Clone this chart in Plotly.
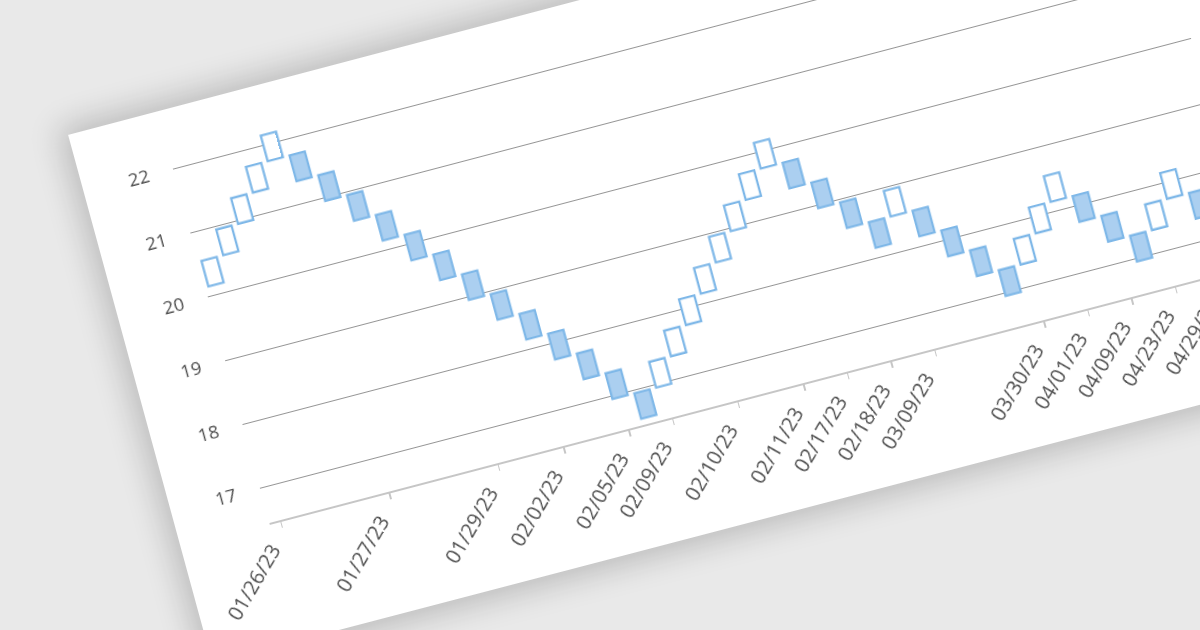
import numpy as np
import plotly.graph_objects as go

# ---------------- data (Renko bricks) ----------------
brick_open = [20.15, 20.55, 20.95, 21.35, 21.75,
              21.75, 21.35, 20.95, 20.55, 20.15, 19.75, 19.35, 18.95, 18.55, 18.15, 17.75, 17.35, 16.95,
              16.95, 17.35, 17.75, 18.15, 18.55, 18.95, 19.35, 19.75,
              19.75, 19.35, 18.95, 18.55,
              18.55,
              18.55, 18.15, 17.75, 17.35,
              17.35, 17.75, 18.15,
              18.15, 17.75, 17.35,
              17.35, 17.75,
              17.75]
brick_close = [20.55, 20.95, 21.35, 21.75, 22.15,
               21.35, 20.95, 20.55, 20.15, 19.75, 19.35, 18.95, 18.55, 18.15, 17.75, 17.35, 16.95, 16.55,
               17.35, 17.75, 18.15, 18.55, 18.95, 19.35, 19.75, 20.15,
               19.35, 18.95, 18.55, 18.15,
               18.95,
               18.15, 17.75, 17.35, 16.95,
               17.75, 18.15, 18.55,
               17.75, 17.35, 16.95,
               17.75, 18.15,
               17.35]
tick_index = [0, 5, 10, 13, 16, 18, 21, 24, 26, 28, 30, 35, 37, 39, 41, 43]
tick_labels = ["01/26/23", "01/27/23", "01/29/23", "02/02/23", "02/05/23", "02/09/23",
               "02/10/23", "02/11/23", "02/17/23", "02/18/23", "03/09/23", "03/30/23",
               "04/01/23", "04/09/23", "04/23/23", "04/29/23"]
y_ticks = [17, 18, 19, 20, 21, 22]

# ---------------- styles ----------------
LINE_BLUE = "#7fb8e8"
FILL_BLUE = "#abcff0"
TEXT = "#4e4e4e"
FONT = "Open Sans"

n = len(brick_open)
idx = list(range(n))
up_i = [i for i in idx if brick_close[i] > brick_open[i]]
dn_i = [i for i in idx if brick_close[i] < brick_open[i]]

def lo(i):
    return min(brick_open[i], brick_close[i])

def hgt(i):
    return abs(brick_close[i] - brick_open[i])

fig = go.Figure()
fig.add_trace(go.Bar(x=up_i, y=[hgt(i) for i in up_i], base=[lo(i) for i in up_i],
                     width=0.7, marker=dict(color="white", line=dict(color=LINE_BLUE, width=2.3)),
                     hoverinfo="skip", showlegend=False))
fig.add_trace(go.Bar(x=dn_i, y=[hgt(i) for i in dn_i], base=[lo(i) for i in dn_i],
                     width=0.7, marker=dict(color=FILL_BLUE, line=dict(color=LINE_BLUE, width=2.3)),
                     hoverinfo="skip", showlegend=False))

xr = [-0.5, 44.5]
yr = [16.45, 22.5]

# ---------------- view (card perspective) calibration ----------------
# data coords (slot, value) of a few reference features and where they appear on the page
view_uv = [(-0.5, 22), (-0.5, 17), (0, 20.35), (4, 21.95), (17, 16.75), (25, 19.95),
           (34, 17.15), (37, 18.35), (40, 17.15), (42, 17.95),
           (0, 16.45), (5, 16.45), (10, 16.45), (16, 16.45), (35, 16.45), (41, 16.45)]
view_xy = [(173.3, 170.7), (259.3, 486.7), (212.5, 271.7), (271.7, 145.7), (648.3, 408), (764, 153),
           (1011, 281), (1055.5, 187), (1141.5, 247), (1171, 183),
           (279.3, 516.7), (389, 493), (498, 464), (628, 428), (1043.6, 323), (1173, 283)]
card_top_left = (68, 135)
card_bottom_pt = (600, 562)


def norm_mat(pts):
    p = np.asarray(pts, float)
    c = p.mean(axis=0)
    d = np.sqrt(((p - c) ** 2).sum(axis=1)).mean()
    s = np.sqrt(2) / d
    return np.array([[s, 0, -s * c[0]], [0, s, -s * c[1]], [0, 0, 1]])


def fit_h(src, dst):
    Ts, Td = norm_mat(src), norm_mat(dst)
    rows = []
    for (x, y), (X, Y) in zip(src, dst):
        a = Ts @ [x, y, 1]
        b = Td @ [X, Y, 1]
        x, y = a[0], a[1]
        X, Y = b[0], b[1]
        rows.append([x, y, 1, 0, 0, 0, -X * x, -X * y, -X])
        rows.append([0, 0, 0, x, y, 1, -Y * x, -Y * y, -Y])
    _, _, vt = np.linalg.svd(np.asarray(rows, float))
    h = vt[-1].reshape(3, 3)
    h = np.linalg.inv(Td) @ h @ Ts
    return h / h[2, 2]


Hd = fit_h(view_uv, view_xy)
Hinv = np.linalg.inv(Hd)


def back(pt):
    q = Hinv @ [pt[0], pt[1], 1]
    return q[0] / q[2], q[1] / q[2]


sx, sy = 22.74, 67.0
u_c, v_c = back(card_top_left)
_, v_b = back(card_bottom_pt)
ml = int(round((xr[0] - u_c) * sx))
mt = int(round((v_c - yr[1]) * sy))
mb = int(round((yr[0] - v_b) * sy))
mr = 40
pw = (xr[1] - xr[0]) * sx
ph = (yr[1] - yr[0]) * sy
W = int(round(ml + pw + mr))
Hh = int(round(mt + ph + mb))
pw = W - ml - mr
ph = Hh - mt - mb
sx = pw / (xr[1] - xr[0])
sy = ph / (yr[1] - yr[0])
A = np.array([[sx, 0, ml - xr[0] * sx], [0, -sy, mt + yr[1] * sy], [0, 0, 1]])
Hf = Hd @ np.linalg.inv(A)
Hf = Hf / Hf[2, 2]
m3d = [Hf[0, 0], Hf[1, 0], 0, Hf[2, 0],
       Hf[0, 1], Hf[1, 1], 0, Hf[2, 1],
       0, 0, 1, 0,
       Hf[0, 2], Hf[1, 2], 0, Hf[2, 2]]
m3d_txt = ",".join("%.10g" % v for v in m3d)

fig.update_layout(
    width=W, height=Hh,
    margin=dict(l=ml, r=mr, t=mt, b=mb, autoexpand=False),
    paper_bgcolor="white", plot_bgcolor="white",
    barmode="overlay", bargap=0,
    font=dict(family=FONT, color=TEXT, size=18),
    showlegend=False,
    xaxis=dict(range=xr, tickmode="array", tickvals=tick_index, ticktext=tick_labels,
               tickangle=-45, showgrid=False, zeroline=False, showline=True,
               linecolor="#c6c6c6", linewidth=1.6, ticks="outside", ticklen=6,
               tickwidth=1.4, tickcolor="#c6c6c6", ticklabelstandoff=0, ticklabelshift=-14,
               tickfont=dict(family=FONT, size=20.5, color=TEXT), fixedrange=True),
    yaxis=dict(range=yr, tickmode="array", tickvals=y_ticks, showgrid=True,
               gridcolor="#959595", gridwidth=1.2, zeroline=False, showline=False,
               ticks="", ticklabelstandoff=24,
               tickfont=dict(family=FONT, size=18.5, color=TEXT), fixedrange=True),
)

post = (
    "var gd=document.getElementById('{plot_id}');"
    "document.documentElement.style.overflow='hidden';"
    "document.documentElement.style.background='#e9e9e9';"
    "document.body.style.margin='0';"
    "document.body.style.overflow='hidden';"
    "document.body.style.background='#e9e9e9';"
    "gd.style.position='absolute';gd.style.left='0px';gd.style.top='0px';"
    "gd.style.transformOrigin='0 0';"
    "gd.style.boxShadow='0 0 30px 8px rgba(0,0,0,0.20)';"
    "gd.style.transform='matrix3d(" + m3d_txt + ")';"
)

fig.write_html("out.html", config={"displayModeBar": False, "staticPlot": True},
               post_script=post)
